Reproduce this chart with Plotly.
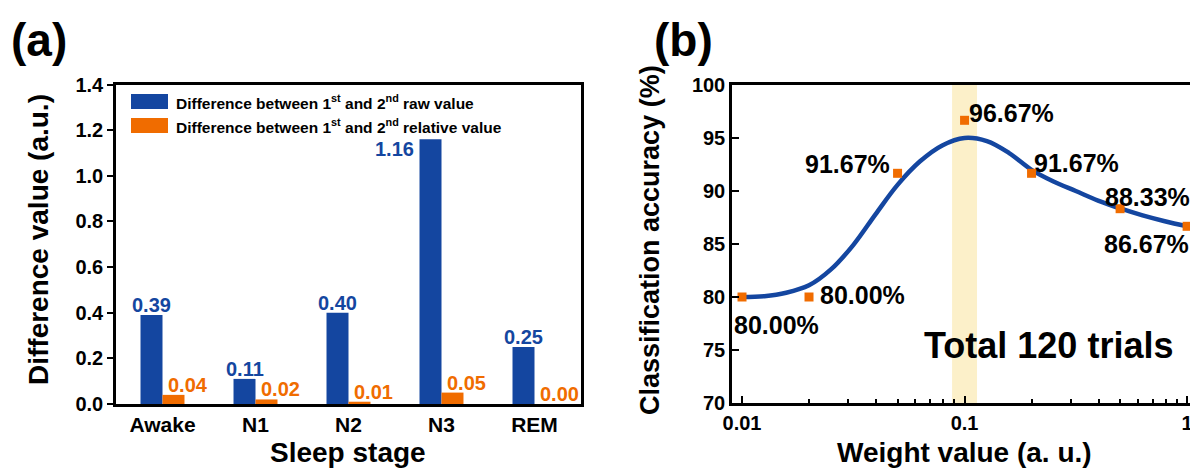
import math
import plotly.graph_objects as go

# ---------------- data ----------------
stages = ["Awake", "N1", "N2", "N3", "REM"]
raw_diff = [0.39, 0.11, 0.40, 1.16, 0.25]
rel_diff = [0.04, 0.02, 0.01, 0.05, 0.00]

weights = [0.01, 0.02, 0.05, 0.1, 0.2, 0.5, 1.0]
accuracy = [80.00, 80.00, 91.67, 96.67, 91.67, 88.33, 86.67]

# fitted curve
curve_x = [0.01, 0.0126, 0.0158, 0.02, 0.0251, 0.0316, 0.0398, 0.0501, 0.0631, 0.0794,
           0.1, 0.126, 0.158, 0.2, 0.251, 0.316, 0.398, 0.501, 0.631, 0.794, 1.0]
curve_y = [80.0, 80.08, 80.4, 81.1, 82.6, 84.9, 87.8, 90.6, 92.8, 94.3,
           95.0, 94.7, 93.6, 92.0, 90.9, 90.0, 89.1, 88.35, 87.7, 87.15, 86.67]

legend_labels = ["Difference between 1<sup>st</sup> and 2<sup>nd</sup> raw value",
                 "Difference between 1<sup>st</sup> and 2<sup>nd</sup> relative value"]

# ---------------- style ----------------
W, H = 1198, 471
OFF = 8  # page body margin offset
BLUE = "#1446a0"
ORANGE = "#f06c00"
BAND = "#fcf0c9"
FONT = "Liberation Sans, Arial, sans-serif"


def px(x):
    return (x - OFF) / W


def py(y):
    return 1 - (y - OFF) / H


fig = go.Figure()

fig.add_trace(go.Bar(x=stages, y=raw_diff, marker=dict(color=BLUE, line=dict(width=0)),
                     xaxis="x", yaxis="y", showlegend=False))
fig.add_trace(go.Bar(x=stages, y=rel_diff, marker=dict(color=ORANGE, line=dict(width=0)),
                     xaxis="x", yaxis="y", showlegend=False))

fig.add_trace(go.Scatter(x=curve_x, y=curve_y, mode="lines",
                         line=dict(color=BLUE, width=4.5, shape="spline", smoothing=1.0),
                         xaxis="x2", yaxis="y2", showlegend=False))
fig.add_trace(go.Scatter(x=weights, y=accuracy, mode="markers",
                         marker=dict(symbol="square", size=9, color=ORANGE, line=dict(width=0)),
                         xaxis="x2", yaxis="y2", showlegend=False))

annotations = []
# bar value labels
for s, v in zip(stages, raw_diff):
    if v > 1.0:
        annotations.append(dict(x=s, y=v + 0.015, xref="x", yref="y", text=f"<b>{v:.2f}</b>",
                                showarrow=False, xanchor="right", yanchor="top", xshift=-26,
                                font=dict(family=FONT, size=20, color=BLUE)))
    else:
        annotations.append(dict(x=s, y=v, xref="x", yref="y", text=f"<b>{v:.2f}</b>",
                                showarrow=False, xanchor="center", yanchor="bottom", xshift=-11, yshift=-3,
                                font=dict(family=FONT, size=20, color=BLUE)))
for s, v in zip(stages, rel_diff):
    annotations.append(dict(x=s, y=v, xref="x", yref="y", text=f"<b>{v:.2f}</b>",
                            showarrow=False, xanchor="center", yanchor="bottom", xshift=25, yshift=-3,
                            font=dict(family=FONT, size=20, color=ORANGE)))

# accuracy labels: (xanchor, xshift, yshift)
acc_label_pos = [("left", -10, -28), ("left", 9, 2), ("right", -6, 9), ("left", 2, 7),
                 ("left", 0, 10), ("left", -17, 12), ("right", 4, -18)]
for (xv, yv), (xa, xs, ys) in zip(zip(weights, accuracy), acc_label_pos):
    annotations.append(dict(x=math.log10(xv), y=yv, xref="x2", yref="y2", text=f"<b>{yv:.2f}%</b>",
                            showarrow=False, xanchor=xa, yanchor="middle", xshift=xs, yshift=ys,
                            font=dict(family=FONT, size=25, color="black")))

annotations.append(dict(x=px(1175), y=py(345), xref="paper", yref="paper", text="<b>Total 120 trials</b>",
                        showarrow=False, xanchor="right", yanchor="middle",
                        font=dict(family=FONT, size=36, color="black")))

# panel letters
annotations.append(dict(x=px(39), y=py(40), xref="paper", yref="paper", text="<b>(a)</b>",
                        showarrow=False, xanchor="center", yanchor="middle",
                        font=dict(family=FONT, size=46, color="black")))
annotations.append(dict(x=px(683), y=py(40), xref="paper", yref="paper", text="<b>(b)</b>",
                        showarrow=False, xanchor="center", yanchor="middle",
                        font=dict(family=FONT, size=46, color="black")))

# axis titles
annotations.append(dict(x=px(38), y=py(240), xref="paper", yref="paper", text="<b>Difference value (a.u.)</b>",
                        showarrow=False, textangle=-90, xanchor="center", yanchor="middle",
                        font=dict(family=FONT, size=28, color="black")))
annotations.append(dict(x=px(348), y=py(452), xref="paper", yref="paper", text="<b>Sleep stage</b>",
                        showarrow=False, xanchor="center", yanchor="middle",
                        font=dict(family=FONT, size=28, color="black")))
annotations.append(dict(x=px(650), y=py(240), xref="paper", yref="paper", text="<b>Classification accuracy (%)</b>",
                        showarrow=False, textangle=-90, xanchor="center", yanchor="middle",
                        font=dict(family=FONT, size=27, color="black")))
annotations.append(dict(x=px(964), y=py(452), xref="paper", yref="paper", text="<b>Weight value (a. u.)</b>",
                        showarrow=False, xanchor="center", yanchor="middle",
                        font=dict(family=FONT, size=28, color="black")))

# manual legend
shapes = []
for k, (lab, col) in enumerate(zip(legend_labels, [BLUE, ORANGE])):
    y0 = 94 + k * 24
    shapes.append(dict(type="rect", xref="paper", yref="paper", x0=px(131), x1=px(168),
                       y0=py(y0 + 15), y1=py(y0), fillcolor=col, line=dict(width=0)))
    annotations.append(dict(x=px(174), y=py(y0 + 7.5), xref="paper", yref="paper", text=f"<b>{lab}</b>",
                            showarrow=False, xanchor="left", yanchor="middle",
                            font=dict(family=FONT, size=15.5, color="black")))

# highlight band
shapes.append(dict(type="rect", xref="x2", yref="y2 domain", x0=10 ** -1.056, x1=10 ** -0.944,
                   y0=0, y1=1, fillcolor=BAND, line=dict(width=0), layer="below"))

tickfont = dict(family=FONT, size=20, color="black", weight="bold")
xtickfont = dict(family=FONT, size=21, color="black", weight="bold")
tickfont_b = dict(family=FONT, size=20, color="black", weight="bold")

fig.update_layout(
    template="none",
    width=W, height=H,
    margin=dict(l=0, r=0, t=0, b=0, pad=0),
    paper_bgcolor="white", plot_bgcolor="white",
    barmode="group", bargap=0.527, bargroupgap=0,
    showlegend=False,
    annotations=annotations,
    shapes=shapes,
    xaxis=dict(domain=[px(116), px(581)], anchor="y", range=[-0.5, 4.5], automargin=False,
               showline=True, linecolor="black", linewidth=2.5, mirror=True,
               ticks="", showgrid=False, zeroline=False, tickfont=xtickfont),
    yaxis=dict(domain=[py(404), py(84.5)], anchor="x", range=[0, 1.4], dtick=0.2, tickformat=".1f",
               automargin=False,
               showline=True, linecolor="black", linewidth=2.5, mirror=True,
               ticks="outside", ticklen=6, tickwidth=2, tickcolor="black",
               showgrid=False, zeroline=False, tickfont=tickfont),
    xaxis2=dict(domain=[px(732), px(1196)], anchor="y2", type="log", range=[-2.045, 0.04],
                automargin=False,
                tickvals=[0.01, 0.1, 1], ticktext=["0.01", "0.1", "1"],
                showline=True, linecolor="black", linewidth=2.5, mirror=True,
                ticks="inside", ticklen=7, tickwidth=2, tickcolor="black",
                minor=dict(tickvals=[0.02, 0.03, 0.04, 0.05, 0.06, 0.07, 0.08, 0.09,
                                     0.2, 0.3, 0.4, 0.5, 0.6, 0.7, 0.8, 0.9],
                           ticks="inside", ticklen=4, tickwidth=1.5, tickcolor="black", showgrid=False),
                showgrid=False, zeroline=False, tickfont=tickfont_b),
    yaxis2=dict(domain=[py(403), py(85)], anchor="x2", range=[70, 100], dtick=5,
                automargin=False,
                showline=True, linecolor="black", linewidth=2.5, mirror=True,
                ticks="inside", ticklen=7, tickwidth=2, tickcolor="black",
                showgrid=False, zeroline=False, tickfont=tickfont_b),
)

fig.write_html("out.html")
